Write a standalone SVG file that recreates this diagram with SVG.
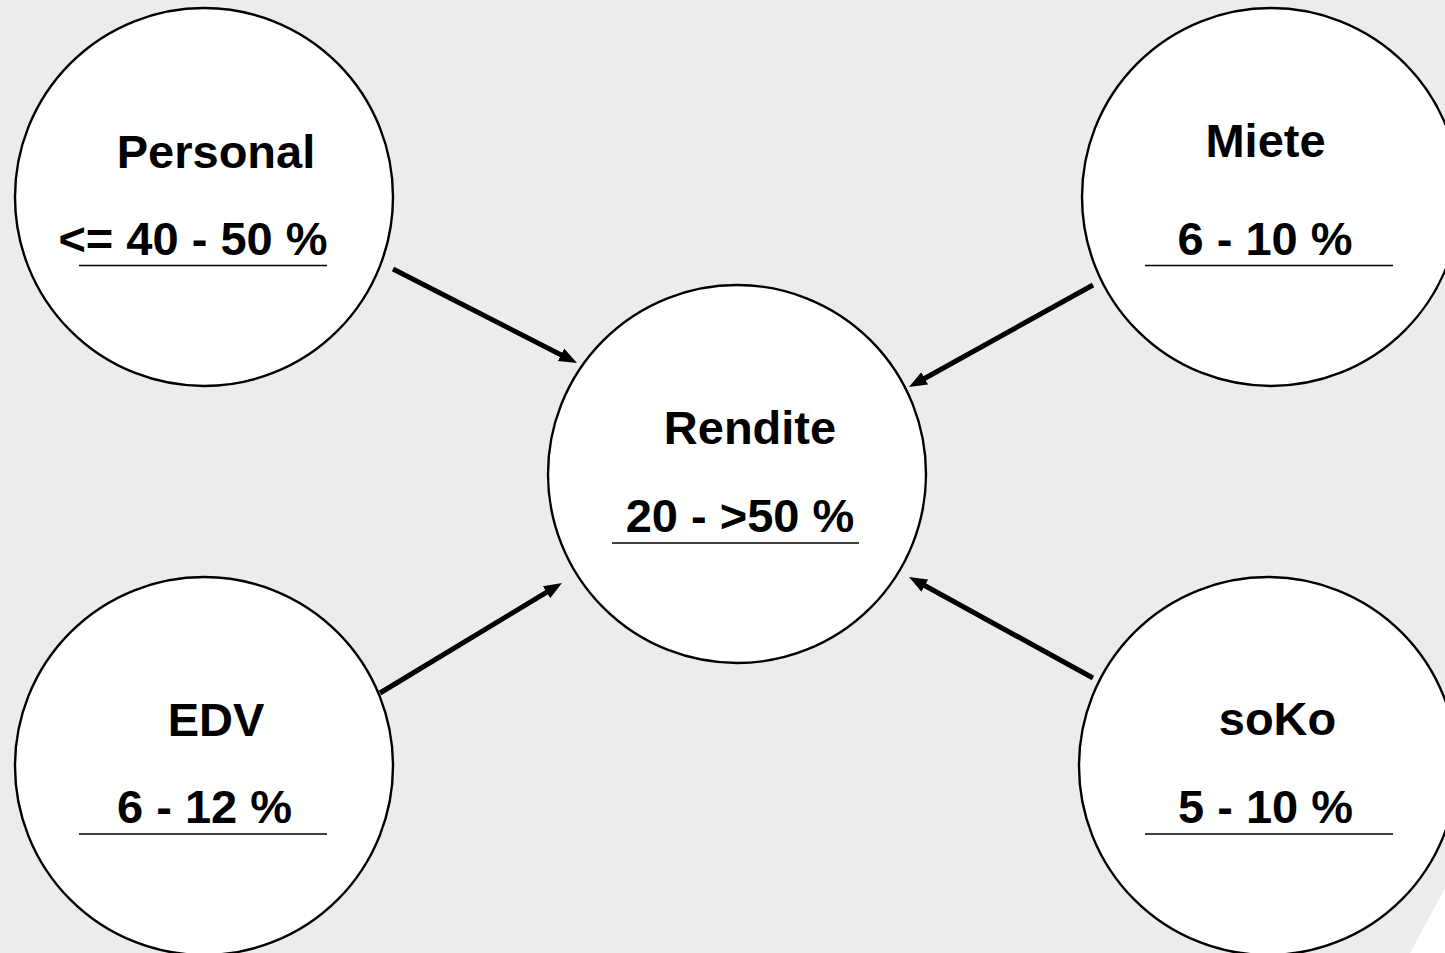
<svg xmlns="http://www.w3.org/2000/svg" width="1445" height="953" viewBox="0 0 1445 953">
<style>
.node{fill:#ffffff;stroke:#000000;stroke-width:2.4}
.t{font-family:"Liberation Sans",Arial,sans-serif;font-weight:bold;font-size:47px;fill:#000000;text-anchor:middle}
.ul{stroke:#000000;stroke-width:1.5}
.conn{stroke:#000000;stroke-width:5;fill:none;marker-end:url(#ah)}
</style>
<defs>
<marker id="ah" markerUnits="userSpaceOnUse" markerWidth="20" markerHeight="16" refX="8" refY="7" orient="auto" viewBox="0 0 20 14">
<path d="M0,0 L18,7 L0,14 z" fill="#000000"/>
</marker>
</defs>
<rect x="0" y="0" width="1445" height="953" fill="#ececec"/>
<polygon points="1410,953 1445,888 1445,953" fill="#ffffff"/>
<g id="connectors">
<line class="conn" x1="393" y1="269" x2="568.1" y2="358.4"/>
<line class="conn" x1="1093" y1="285" x2="917.7" y2="382.2"/>
<line class="conn" x1="380" y1="693" x2="553.4" y2="588.2"/>
<line class="conn" x1="1093" y1="678" x2="917.8" y2="581.8"/>
</g>
<g id="personal">
<circle class="node" cx="204" cy="197" r="189"/>
<text class="t" x="216" y="168">Personal</text>
<text class="t" x="193" y="255">&lt;= 40 - 50 %</text>
<line class="ul" x1="79" y1="265.5" x2="327" y2="265.5"/>
</g>
<g id="miete">
<circle class="node" cx="1271" cy="197" r="189"/>
<text class="t" x="1265.5" y="157">Miete</text>
<text class="t" x="1265" y="255">6 - 10 %</text>
<line class="ul" x1="1145" y1="265.5" x2="1393" y2="265.5"/>
</g>
<g id="rendite">
<circle class="node" cx="737" cy="474" r="189"/>
<text class="t" x="750" y="444">Rendite</text>
<text class="t" x="740" y="532">20 - &gt;50 %</text>
<line class="ul" x1="612" y1="543" x2="859" y2="543"/>
</g>
<g id="edv">
<circle class="node" cx="204" cy="766" r="189"/>
<text class="t" x="216" y="736">EDV</text>
<text class="t" x="204.5" y="823">6 - 12 %</text>
<line class="ul" x1="79" y1="834" x2="327" y2="834"/>
</g>
<g id="soko">
<circle class="node" cx="1268" cy="766" r="189"/>
<text class="t" x="1277.5" y="735">soKo</text>
<text class="t" x="1265.5" y="823">5 - 10 %</text>
<line class="ul" x1="1145" y1="834" x2="1393" y2="834"/>
</g>
</svg>
